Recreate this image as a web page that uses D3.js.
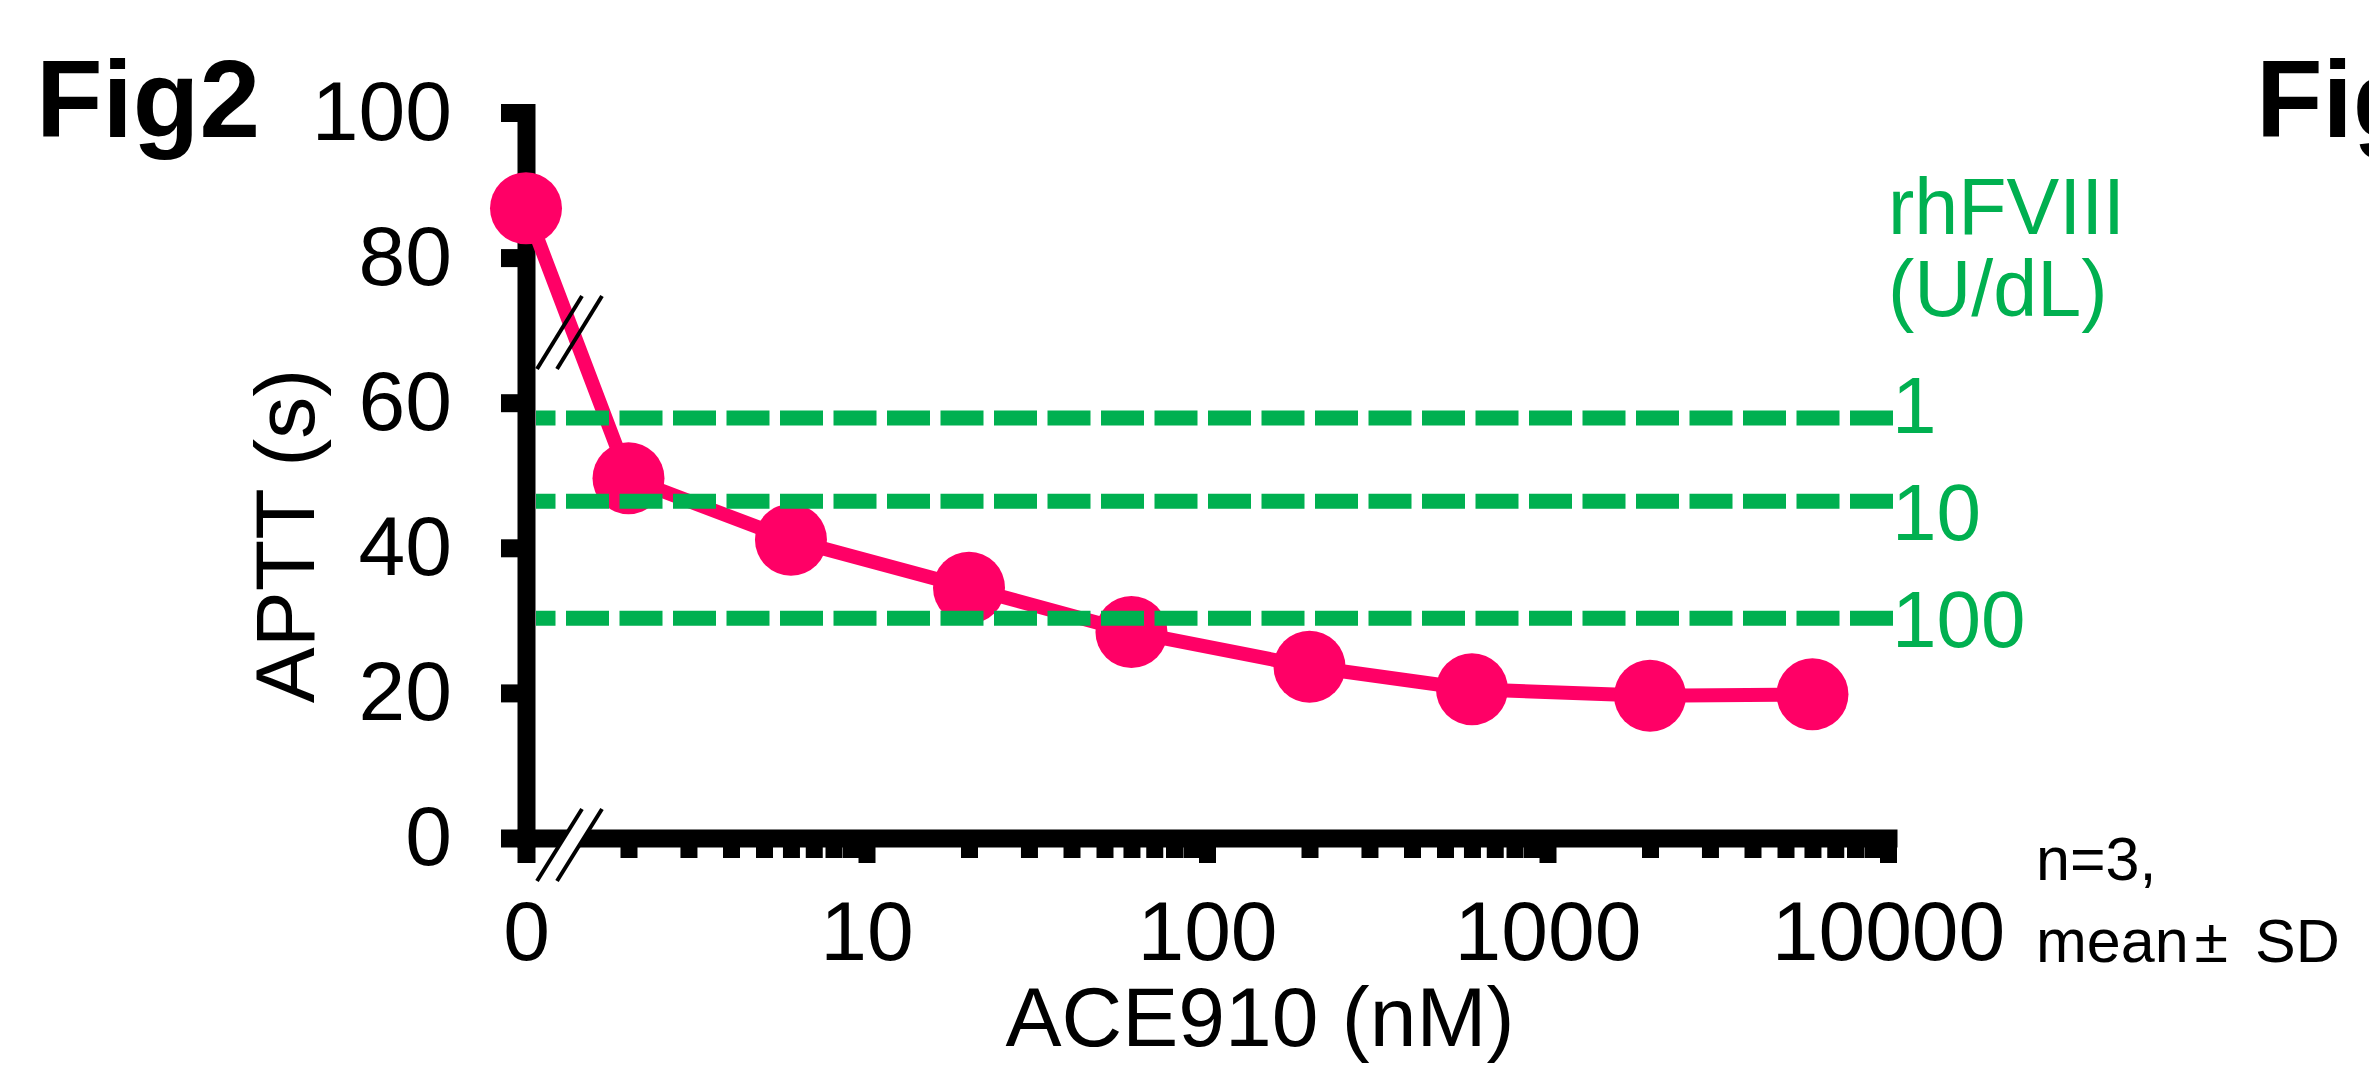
<!DOCTYPE html>
<html>
<head>
<meta charset="utf-8">
<script src="https://cdn.jsdelivr.net/npm/d3@7"></script>
<style>
  html, body { margin: 0; padding: 0; background: #fff; }
  svg { display: block; }
</style>
</head>
<body>
<script>
"use strict";
(function(){
    // ACE910 concentration (nM) and mean APTT (s)
    const concentrations = [0, 2, 6, 20, 60, 200, 600, 2000, 6000]
    const apttMeans = [86.8, 49.6, 41.1, 34.5, 28.4, 23.6, 20.5, 19.6, 19.8]

    // rhFVIII reference levels (U/dL) and their APTT (s)
    const fviiiLevels = ["1", "10", "100"]
    const fviiiAptt = [57.9, 46.4, 30.3]

    const yTicks = [0, 20, 40, 60, 80, 100]
    const xMajorTicks = [10, 100, 1000, 10000]
    const xMinorTicks = [2, 3, 4, 5, 6, 7, 8, 9,
        20, 30, 40, 50, 60, 70, 80, 90,
        200, 300, 400, 500, 600, 700, 800, 900,
        2000, 3000, 4000, 5000, 6000, 7000, 8000, 9000]

    const measurements = {
        width: 2369,
        height: 1075,
        axisX: 526,
        logEnd: 1888,
        yBottom: 838,
        yTop: 112.5
    }
    const pink = "#FF0066"
    const green = "#00B050"
    const font = "Arial, 'Liberation Sans', sans-serif"

    const svg = d3.select("body").append("svg")
        .attr("width", measurements.width)
        .attr("height", measurements.height)
    svg.append("rect").attr("width", measurements.width).attr("height", measurements.height).attr("fill", "#fff")

    const y = d3.scaleLinear().domain([0, 100]).range([measurements.yBottom, measurements.yTop])
    const xLog = d3.scaleLog().domain([1, 10000]).range([measurements.axisX, measurements.logEnd])
    // the zero dose sits on its own short segment before the axis break
    const xZero = d3.scalePoint().domain([0]).range([measurements.axisX, measurements.axisX])
    const xPos = (c) => c === 0 ? xZero(0) : xLog(c)

    //Y axis
    const yAxis = svg.append("g")
        .attr("transform", `translate(${measurements.axisX},0)`)
        .call(d3.axisLeft(y).tickValues(yTicks).tickSize(25).tickSizeOuter(0).tickPadding(49))
    yAxis.attr("font-size", 84).attr("font-family", font)
    yAxis.select(".domain").attr("stroke-width", 18).attr("stroke-linecap", "square")
    yAxis.selectAll(".tick line").attr("stroke-width", 18)

    //X axis, log part
    const xAxis = svg.append("g")
        .attr("transform", `translate(0,${measurements.yBottom})`)
        .call(d3.axisBottom(xLog).tickValues(xMajorTicks).tickSize(25).tickSizeOuter(0)
            .tickPadding(37).tickFormat(d3.format("d")))
    xAxis.attr("font-size", 84).attr("font-family", font)
    xAxis.select(".domain").attr("stroke-width", 18).attr("stroke-linecap", "square")
    xAxis.selectAll(".tick line").attr("stroke-width", 17)

    const xMinor = svg.append("g")
        .attr("transform", `translate(0,${measurements.yBottom})`)
        .call(d3.axisBottom(xLog).tickValues(xMinorTicks).tickSize(20).tickFormat(""))
    xMinor.select(".domain").remove()
    xMinor.selectAll(".tick line").attr("stroke-width", 17)

    //X axis, zero segment
    const xZeroAxis = svg.append("g")
        .attr("transform", `translate(0,${measurements.yBottom})`)
        .call(d3.axisBottom(xZero).tickValues([0]).tickSize(25).tickPadding(37))
    xZeroAxis.attr("font-size", 84).attr("font-family", font)
    xZeroAxis.select(".domain").remove()
    xZeroAxis.selectAll(".tick line").attr("stroke-width", 18)

    //axis break on the x axis
    const bx = measurements.axisX + 11
    const by = measurements.yBottom
    svg.append("polygon")
        .attr("points", `${bx},${by + 42} ${bx + 45},${by - 29} ${bx + 66},${by - 28} ${bx + 20},${by + 44}`)
        .attr("fill", "#fff")
    svg.selectAll(".xbreak")
        .data([0, 20])
        .enter()
        .append("line")
            .attr("x1", d => bx + d).attr("y1", by + 43)
            .attr("x2", d => bx + 45 + d).attr("y2", by - 29)
            .attr("stroke", "#000").attr("stroke-width", 4)

    //APTT curve
    const points = concentrations.map((c, i) => [xPos(c), y(apttMeans[i])])
    svg.append("path")
        .attr("d", d3.line()(points))
        .attr("fill", "none")
        .attr("stroke", pink)
        .attr("stroke-width", 14)
    svg.selectAll(".dot")
        .data(points)
        .enter()
        .append("circle")
            .attr("cx", d => d[0])
            .attr("cy", d => d[1])
            .attr("r", 36)
            .attr("fill", pink)

    //break marks on the first segment of the curve
    svg.selectAll(".ybreak")
        .data([0, 20])
        .enter()
        .append("line")
            .attr("x1", d => bx + d).attr("y1", 369)
            .attr("x2", d => bx + 45 + d).attr("y2", 296)
            .attr("stroke", "#000").attr("stroke-width", 4)

    //rhFVIII reference lines
    svg.selectAll(".ref")
        .data(fviiiAptt)
        .enter()
        .append("line")
            .attr("x1", 1893).attr("x2", measurements.axisX + 10)
            .attr("y1", d => y(d)).attr("y2", d => y(d))
            .attr("stroke", green)
            .attr("stroke-width", 15)
            .attr("stroke-dasharray", "43,10.5")

    const labelBaselines = [433, 540, 647]
    svg.selectAll(".refLabel")
        .data(fviiiLevels)
        .enter()
        .append("text")
            .attr("x", 1892)
            .attr("y", (d, i) => labelBaselines[i])
            .attr("fill", green)
            .attr("font-size", 80)
            .attr("font-family", font)
            .text(d => d)
    svg.append("text").attr("x", 1888).attr("y", 234).attr("fill", green)
        .attr("font-size", 79).attr("font-family", font).text("rhFVIII")
    svg.append("text").attr("x", 1888).attr("y", 316).attr("fill", green)
        .attr("font-size", 79).attr("font-family", font).text("(U/dL)")

    //titles
    svg.append("text")
        .attr("transform", "translate(314,536) rotate(-90)")
        .attr("text-anchor", "middle")
        .attr("font-size", 84).attr("font-family", font)
        .text("APTT (s)")
    svg.append("text")
        .attr("x", 1260).attr("y", 1046)
        .attr("text-anchor", "middle")
        .attr("font-size", 84).attr("font-family", font)
        .text("ACE910 (nM)")
    svg.append("text")
        .attr("x", 36).attr("y", 137)
        .attr("font-size", 109).attr("font-weight", "bold").attr("font-family", font)
        .text("Fig2")
    svg.append("text")
        .attr("x", 2256).attr("y", 137)
        .attr("font-size", 109).attr("font-weight", "bold").attr("font-family", font)
        .text("Fig3")

    //sample note
    svg.append("text").attr("x", 2036).attr("y", 880)
        .attr("font-size", 61).attr("font-family", font).text("n=3,")
    const note = svg.append("text").attr("x", 2036).attr("y", 962)
        .attr("font-size", 61).attr("font-family", font)
    note.append("tspan").text("mean")
    note.append("tspan").attr("dx", 6).text("±")
    note.append("tspan").attr("dx", 10).text(" SD")
})()
</script>
</body>
</html>
